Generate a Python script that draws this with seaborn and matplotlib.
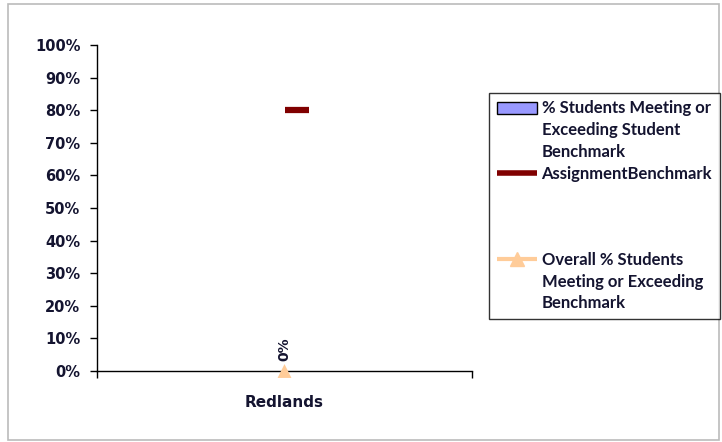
import matplotlib
matplotlib.use("Agg")
import matplotlib.pyplot as plt
import seaborn as sns
import pandas as pd
from matplotlib.patches import Patch, Rectangle
from matplotlib.lines import Line2D

# chart data
categories = ["Redlands"]
pct_meeting = [0.0]          # % Students Meeting or Exceeding Student Benchmark
assignment_benchmark = [0.80]
overall_pct = [0.0]          # Overall % Students Meeting or Exceeding Benchmark
y_ticks = [0, 10, 20, 30, 40, 50, 60, 70, 80, 90, 100]

bar_color = "#9999FF"
bench_color = "#800000"
overall_color = "#FFCC99"
text_color = "#141430"

sns.set_style("white")
plt.rcParams["font.family"] = ["DejaVu Sans"]

df = pd.DataFrame({"school": categories, "pct": pct_meeting,
                   "bench": assignment_benchmark, "overall": overall_pct})

fig = plt.figure(figsize=(7.22, 4.42), dpi=100)
ax = fig.add_axes([97 / 722, 1 - 371 / 442, 375 / 722, 326 / 442])

# bars (all zero here)
sns.barplot(data=df, x="school", y="pct", color=bar_color, linewidth=0,
            width=0.5, ax=ax)

# benchmark as short dash to the right of the category centre
for i, b in enumerate(df["bench"]):
    ax.plot([i, i + 0.065], [b, b], color=bench_color, lw=4.5,
            solid_capstyle="butt")

# overall triangles with data labels
sns.scatterplot(x=list(range(len(df))), y=df["overall"], marker="^", s=100,
                color=overall_color, edgecolor="none", ax=ax, zorder=5,
                clip_on=False)
for i, v in enumerate(df["overall"]):
    ax.annotate(f"{v:.0%}", (i, v), xytext=(0, 7), textcoords="offset points",
                rotation=90, ha="center", va="bottom", fontsize=10,
                fontweight="bold", color=text_color)

ax.set_xlim(-0.5, len(df) - 0.5)
ax.set_ylim(0, 1)
ax.set_yticks([t / 100 for t in y_ticks])
ax.set_yticklabels([f"{t}%" for t in y_ticks], fontsize=10.5,
                   fontweight="bold", color=text_color)
ax.set_xticks([-0.5 + k for k in range(len(df) + 1)])
ax.set_xticklabels([""] * (len(df) + 1))
ax.set_xticks(range(len(df)), minor=True)
ax.set_xticklabels(categories, minor=True, fontsize=11, fontweight="bold",
                   color=text_color)
ax.tick_params(axis="x", which="minor", length=0, pad=17)
ax.tick_params(axis="x", which="major", direction="out", length=5, width=1,
               color="black", bottom=True)
ax.tick_params(axis="y", direction="out", length=5, width=1, color="black",
               left=True, pad=7)
ax.set_xlabel("")
ax.set_ylabel("")
for side in ["top", "right"]:
    ax.spines[side].set_visible(False)
for side in ["left", "bottom"]:
    ax.spines[side].set_color("black")
    ax.spines[side].set_linewidth(1)

# legend, one line per entry so keys sit on the first line
blank = Line2D([], [], linestyle="none")
handles = [
    Patch(facecolor=bar_color, edgecolor="black"), blank, blank,
    Line2D([], [], color=bench_color, lw=4, solid_capstyle="butt"),
    blank, blank, blank,
    Line2D([], [], color=overall_color, lw=3, marker="^", markersize=10,
           solid_capstyle="butt"),
    blank, blank,
]
labels = ["% Students Meeting or", "Exceeding Student", "Benchmark",
          "AssignmentBenchmark", "", "", "",
          "Overall % Students", "Meeting or Exceeding", "Benchmark"]
leg = fig.legend(handles, labels, loc="upper left",
                 bbox_to_anchor=(489 / 722, 1 - 93 / 442),
                 frameon=True, fancybox=False, edgecolor="black",
                 handlelength=2.4, handletextpad=0.3, labelspacing=0.34,
                 borderpad=0.45, borderaxespad=0,
                 prop={"family": "Lato", "weight": "bold", "size": 12})
leg.get_frame().set_linewidth(1)
for t in leg.get_texts():
    t.set_color(text_color)

# outer chart border
fig.patches.append(Rectangle((8 / 722, 1 - 440 / 442), 711 / 722, 436 / 442,
                             transform=fig.transFigure, fill=False,
                             edgecolor="#BBBBBB", lw=1.2))

fig.savefig("out.png", dpi=100)
